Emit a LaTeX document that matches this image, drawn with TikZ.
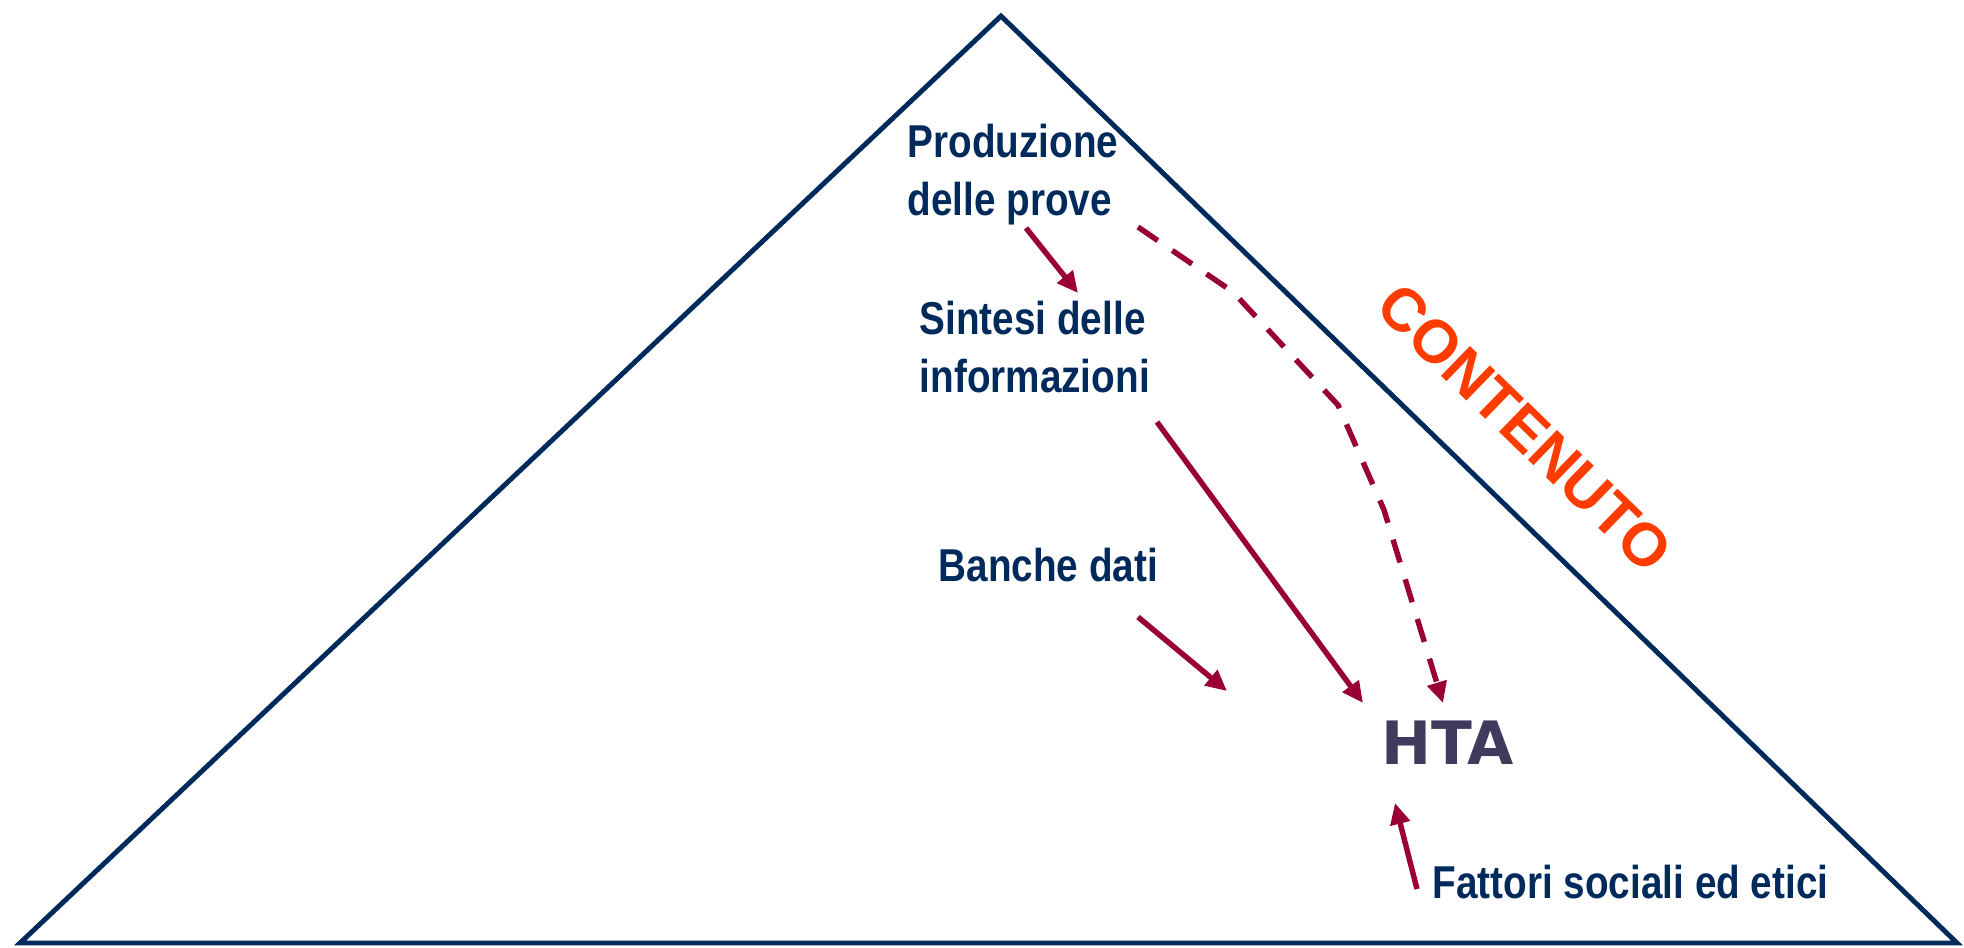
\documentclass[tikz,border=0pt]{standalone}
\usepackage{fontspec}
\usetikzlibrary{arrows.meta}
\newfontfamily\narrowsans[FakeStretch=0.84]{Liberation Sans}
\newfontfamily\plainsans{Liberation Sans}
\newfontfamily\heavysans{DejaVu Sans}
\definecolor{navy}{RGB}{0,42,92}
\definecolor{crimson}{RGB}{153,0,51}
\definecolor{htagrey}{RGB}{64,58,92}
\definecolor{orangered}{RGB}{255,60,0}

\begin{document}
\begin{tikzpicture}[x=0.01cm,y=-0.01cm,
        stage/.style={anchor=north west,inner sep=0pt,align=left,text=navy,
            font=\narrowsans\bfseries\fontsize{13.1}{16.5}\selectfont},
        link/.style={draw=crimson,line width=1.55pt,-{Triangle[length=6pt,width=5.5pt]}},
        hint/.style={link,dash pattern=on 6.8pt off 5pt}]
        \useasboundingbox (0,0) rectangle (1964,947);
        \draw[navy,line width=1.4pt] (20,943) -- (1001,16) -- (1957,943) -- cycle;
        \node[rotate=-44.15,text=orangered,font=\plainsans\bfseries\fontsize{17.2}{20}\selectfont] (side) at (1525,428) {CONTENUTO};
        \node[stage] (prod) at (907,123) {Produzione\\delle prove};
        \node[stage] (sint) at (919,300) {Sintesi delle\\informazioni};
        \node[stage] (banche) at (938,547) {Banche dati};
        \node[stage] (fatt) at (1432,864) {Fattori sociali ed etici};
        \node[anchor=north west,inner sep=0pt,text=htagrey,font=\heavysans\bfseries\fontsize{17}{20}\selectfont] (hta) at (1381,720) {HTA};
        \coordinate (prodout) at (1026,228);
        \coordinate (sintin) at (1078,293);
        \coordinate (sintout) at (1157,422);
        \coordinate (htaleft) at (1363,703);
        \coordinate (prodside) at (1138,227);
        \coordinate (htaright) at (1443,703);
        \coordinate (bancheout) at (1138,617);
        \coordinate (bancheend) at (1227,691);
        \coordinate (fattout) at (1417,889);
        \coordinate (htabelow) at (1395,803);
        \draw[link] (prodout) -- (sintin);
        \draw[link] (sintout) -- (htaleft);
        \draw[link] (bancheout) -- (bancheend);
        \draw[link] (fattout) -- (htabelow);
        \draw[hint] (prodside) -- (1233,292) -- (1338,405) -- (1384,510) -- (htaright);
    \end{tikzpicture}
\end{document}
